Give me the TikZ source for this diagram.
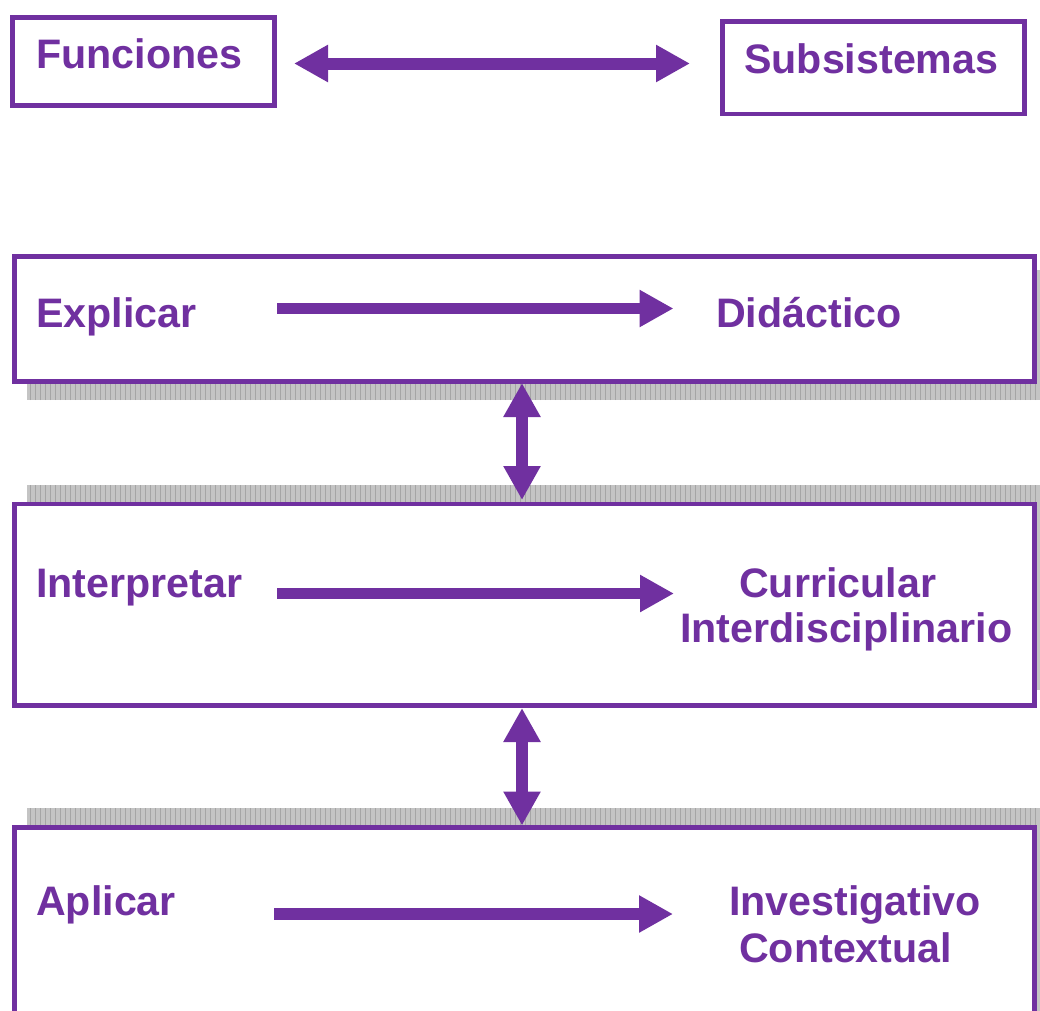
\documentclass[tikz,border=0pt]{standalone}
\usepackage{fontspec}
\setmainfont{Liberation Sans}
\usetikzlibrary{arrows.meta}
\definecolor{vio}{RGB}{112,48,160}
\definecolor{shd}{RGB}{196,196,196}
\definecolor{shdl}{RGB}{165,165,165}
\tikzset{
  box/.style={draw=vio, line width=4.5pt, fill=white, rectangle, inner sep=0pt, outer sep=0pt, anchor=north west},
  lbl/.style={text=vio, font=\fontsize{41.2}{45}\selectfont\bfseries, inner sep=0pt, anchor=base west},
  dblarrow/.style={draw=vio, line width=12pt, {Triangle[length=34pt,width=35pt]}-{Triangle[length=34pt,width=35pt]}},
  onearrow/.style={draw=vio, line width=11.5pt, -{Triangle[length=34pt,width=35pt]}},
}
\newcommand{\shadowband}[4]{%
  \fill[shd] (#1,#2) rectangle (#3,#4);
  \begin{scope}
    \clip (#1,#2) rectangle (#3,#4);
    \draw[shdl, line width=0.6pt, xstep=5, ystep=5] (#1,#2) grid (#3,#4);
  \end{scope}}
\begin{document}
\begin{tikzpicture}[x=1pt, y=-1pt]
\path[use as bounding box] (0,0) rectangle (1040,1010);
\clip (0,0) rectangle (1040,1010);
\fill[white] (0,0) rectangle (1040,1010);

% top boxes
\node[box, minimum width=262pt, minimum height=88pt] (fun) at (12.5,17.5) {};
\node[box, minimum width=302pt, minimum height=92.5pt] (sub) at (722.5,21.5) {};
\node[lbl] (funt) at (36,68) {Funciones};
\node[lbl] (subt) at (744,73) {Subsistemas};
\draw[dblarrow, shorten <=19.5pt, shorten >=32.5pt] ([yshift=-2pt]fun.east) -- ([yshift=-2pt]fun.east -| sub.west);

% shadows
\shadowband{27}{270}{1052}{400}
\shadowband{27}{485}{1052}{690}
\shadowband{27}{808}{1052}{1040}

% big boxes
\node[box, minimum width=1020pt, minimum height=125pt] (b1) at (14.5,256.5) {};
\node[box, minimum width=1020pt, minimum height=201.5pt] (b2) at (14.5,504) {};
\node[box, minimum width=1020pt, minimum height=230pt] (b3) at (14.5,827.5) {};

% texts
\node[lbl] (expl) at (36,327) {Explicar};
\node[lbl] (dida) at (716,327) {Didáctico};
\node[lbl] (inte) at (36,597) {Interpretar};
\node[lbl] (curr) at (739,597) {Curricular};
\node[lbl] (intd) at (680,642) {Interdisciplinario};
\node[lbl] (apli) at (36,915) {Aplicar};
\node[lbl] (inve) at (729,915) {Investigativo};
\node[lbl] (cont) at (739,962) {Contextual};

% inner arrows
\coordinate (a1s) at (277,308.5);
\coordinate (a1e) at (673.5,308.5);
\coordinate (a2s) at (277,593.5);
\coordinate (a2e) at (674,593.5);
\coordinate (a3s) at (274,914);
\coordinate (a3e) at (673,914);
\draw[onearrow] (a1s) -- (a1e);
\draw[onearrow] (a2s) -- (a2e);
\draw[onearrow] (a3s) -- (a3e);

% vertical arrows
\draw[dblarrow, line width=11.5pt, shorten <=1.5pt, shorten >=4pt] ([xshift=-2.5pt]b1.south) -- ([xshift=-2.5pt]b2.north);
\draw[dblarrow, line width=11.5pt, shorten <=2.5pt, shorten >=2pt] ([xshift=-2.5pt]b2.south) -- ([xshift=-2.5pt]b3.north);
\end{tikzpicture}
\end{document}
